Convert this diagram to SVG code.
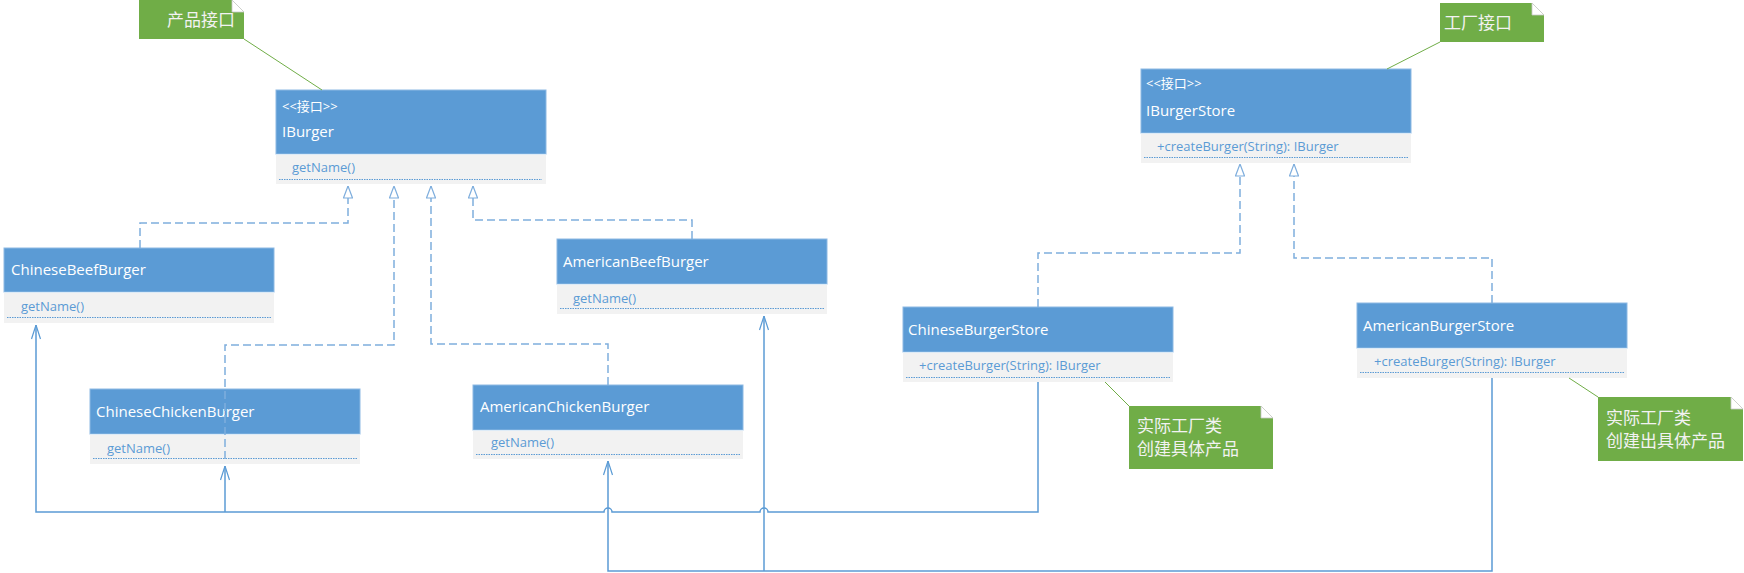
<svg xmlns="http://www.w3.org/2000/svg" width="1744" height="573" viewBox="0 0 1744 573">
<style>
.hdr{fill:#5B9BD5;stroke:#8DB9E3;stroke-width:1}
.cmp{fill:#F2F2F2}
.sep{stroke:#DDEBF7;stroke-width:1}
.dot{stroke:#5B9BD5;stroke-width:1;stroke-dasharray:1.5,1}
.title{font-family:"Open Sans","Noto Sans CJK SC",sans-serif;font-size:15px;fill:#FFFFFF}
.stereo{font-family:"Open Sans","Noto Sans CJK SC",sans-serif;font-size:13px;fill:#FFFFFF}
.meth{font-family:"Open Sans",sans-serif;font-size:13px;fill:#5B9BD5}
.note{fill:#70AD47}
.fold{fill:#FFFFFF;stroke:#C9C9C9;stroke-width:0.8}
.ntxt{font-family:"Noto Sans CJK SC",sans-serif;font-size:17px;fill:#F2F2F2}
.nline{stroke:#70AD47;stroke-width:1;fill:none}
.dash{fill:none;stroke:#7FAEDD;stroke-width:1.5;stroke-dasharray:8,4;marker-end:url(#tri)}
.solid{fill:none;stroke:#5B9BD5;stroke-width:1.5}
.dep{marker-end:url(#open)}
</style>
<defs>
<marker id="tri" viewBox="0 0 13 10" refX="12.5" refY="5" markerWidth="13" markerHeight="10" markerUnits="userSpaceOnUse" orient="auto">
<path d="M12.5,5 L0.5,0.5 L0.5,9.5 Z" fill="#FFFFFF" stroke="#7FAEDD" stroke-width="1.2"/>
</marker>
<marker id="open" viewBox="0 0 15 10" refX="14.5" refY="5" markerWidth="15" markerHeight="10" markerUnits="userSpaceOnUse" orient="auto">
<path d="M0.5,0.5 L14.5,5 L0.5,9.5" fill="none" stroke="#5B9BD5" stroke-width="1.2"/>
</marker>
</defs>
<rect width="1744" height="573" fill="#FFFFFF"/>

<g id="note-product">
<path class="note" d="M139,0 H232 L244,12 V39 H139 Z"/>
<path class="fold" d="M232,0 L244,12 L232,12 Z"/>
<text class="ntxt" x="167" y="26">产品接口</text>
</g>
<g id="note-factory">
<path class="note" d="M1440,3 H1532 L1544,15 V42 H1440 Z"/>
<path class="fold" d="M1532,3 L1544,15 L1532,15 Z"/>
<text class="ntxt" x="1444" y="29">工厂接口</text>
</g>
<g id="note-chinese-store">
<path class="note" d="M1129,406 H1261 L1273,418 V469 H1129 Z"/>
<path class="fold" d="M1261,406 L1273,418 L1261,418 Z"/>
<text class="ntxt" x="1137" y="432">实际工厂类</text>
<text class="ntxt" x="1137" y="455">创建具体产品</text>
</g>
<g id="note-american-store">
<path class="note" d="M1598,397 H1731 L1743,409 V461 H1598 Z"/>
<path class="fold" d="M1731,397 L1743,409 L1731,409 Z"/>
<text class="ntxt" x="1606" y="424">实际工厂类</text>
<text class="ntxt" x="1606" y="447">创建出具体产品</text>
</g>

<g id="IBurger">
<rect class="hdr" x="276" y="90" width="270" height="64"/>
<rect class="cmp" x="276" y="154" width="270" height="30"/>
<line class="sep" x1="276" y1="154.5" x2="546" y2="154.5"/>
<text class="stereo" x="282" y="111">&lt;&lt;接口&gt;&gt;</text>
<text class="title" x="282" y="137">IBurger</text>
<text class="meth" x="292" y="172">getName()</text>
<line class="dot" x1="279" y1="179.5" x2="542" y2="179.5"/>
</g>
<g id="ChineseBeefBurger">
<rect class="hdr" x="4" y="248" width="270" height="44"/>
<rect class="cmp" x="4" y="292" width="270" height="31"/>
<line class="sep" x1="4" y1="292.5" x2="274" y2="292.5"/>
<text class="title" x="11" y="275">ChineseBeefBurger</text>
<text class="meth" x="21" y="311">getName()</text>
<line class="dot" x1="7" y1="317.5" x2="271" y2="317.5"/>
</g>
<g id="AmericanBeefBurger">
<rect class="hdr" x="557" y="239" width="270" height="45"/>
<rect class="cmp" x="557" y="284" width="270" height="30"/>
<line class="sep" x1="557" y1="284.5" x2="827" y2="284.5"/>
<text class="title" x="563" y="267">AmericanBeefBurger</text>
<text class="meth" x="573" y="303">getName()</text>
<line class="dot" x1="560" y1="308.5" x2="824" y2="308.5"/>
</g>
<g id="ChineseChickenBurger">
<rect class="hdr" x="90" y="389" width="270" height="45"/>
<rect class="cmp" x="90" y="434" width="270" height="30"/>
<line class="sep" x1="90" y1="434.5" x2="360" y2="434.5"/>
<text class="title" x="96" y="417">ChineseChickenBurger</text>
<text class="meth" x="107" y="453">getName()</text>
<line class="dot" x1="93" y1="458.5" x2="357" y2="458.5"/>
</g>
<g id="AmericanChickenBurger">
<rect class="hdr" x="473" y="385" width="270" height="45"/>
<rect class="cmp" x="473" y="430" width="270" height="29"/>
<line class="sep" x1="473" y1="430.5" x2="743" y2="430.5"/>
<text class="title" x="480" y="412">AmericanChickenBurger</text>
<text class="meth" x="491" y="447">getName()</text>
<line class="dot" x1="476" y1="454.5" x2="740" y2="454.5"/>
</g>
<g id="IBurgerStore">
<rect class="hdr" x="1141" y="69" width="270" height="64"/>
<rect class="cmp" x="1141" y="133" width="270" height="30"/>
<line class="sep" x1="1141" y1="133.5" x2="1411" y2="133.5"/>
<text class="stereo" x="1146" y="88">&lt;&lt;接口&gt;&gt;</text>
<text class="title" x="1146" y="116">IBurgerStore</text>
<text class="meth" x="1157" y="151">+createBurger(String): IBurger</text>
<line class="dot" x1="1144" y1="157.5" x2="1408" y2="157.5"/>
</g>
<g id="ChineseBurgerStore">
<rect class="hdr" x="903" y="307" width="270" height="45"/>
<rect class="cmp" x="903" y="352" width="270" height="30"/>
<line class="sep" x1="903" y1="352.5" x2="1173" y2="352.5"/>
<text class="title" x="908" y="335">ChineseBurgerStore</text>
<text class="meth" x="919" y="370">+createBurger(String): IBurger</text>
<line class="dot" x1="906" y1="377.5" x2="1170" y2="377.5"/>
</g>
<g id="AmericanBurgerStore">
<rect class="hdr" x="1357" y="303" width="270" height="45"/>
<rect class="cmp" x="1357" y="348" width="270" height="30"/>
<line class="sep" x1="1357" y1="348.5" x2="1627" y2="348.5"/>
<text class="title" x="1363" y="331">AmericanBurgerStore</text>
<text class="meth" x="1374" y="366">+createBurger(String): IBurger</text>
<line class="dot" x1="1360" y1="372.5" x2="1624" y2="372.5"/>
</g>

<g id="connectors">
<line class="nline" x1="244" y1="39" x2="322" y2="90"/>
<line class="nline" x1="1387" y1="69" x2="1440" y2="42"/>
<line class="nline" x1="1105" y1="382" x2="1129" y2="406"/>
<line class="nline" x1="1569" y1="378" x2="1598" y2="397"/>

<path class="dash" d="M140,248 V223 H348 V186"/>
<path class="dash" d="M225,459 V345 H394 V186"/>
<path class="dash" d="M608,385 V344 H431 V186"/>
<path class="dash" d="M692,239 V220 H473 V186"/>
<path class="dash" d="M1038,307 V253 H1240 V164"/>
<path class="dash" d="M1492,303 V258 H1294 V164"/>

<path class="solid dep" d="M1038,382 V512 H768 A4,4 0 0 0 760,512 H612 A4,4 0 0 0 604,512 H36 V325"/>
<path class="solid dep" d="M225,512 V466"/>
<path class="solid dep" d="M1492,378 V571 H608 V461"/>
<path class="solid dep" d="M764,571 V316"/>
</g>
</svg>
